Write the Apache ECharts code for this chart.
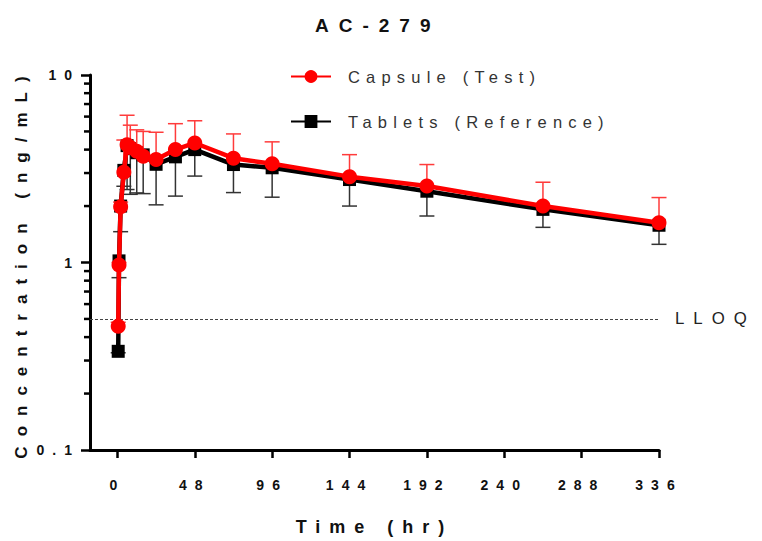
<!DOCTYPE html>
<html><head><meta charset="utf-8">
<script src="https://cdn.jsdelivr.net/npm/echarts@6/dist/echarts.min.js"></script>
<style>html,body{margin:0;padding:0;background:#fff}#c{width:762px;height:541px}</style>
</head><body><div id="c"></div>
<script>
// ---- data ----
const timeHr = [0.5, 1, 2, 4, 6, 8, 12, 16, 24, 36, 48, 72, 96, 144, 192, 264, 336];
const capsuleMean  = [0.457, 0.97, 1.98, 3.03, 4.25, 4.11, 3.92, 3.69, 3.54, 4.0, 4.34, 3.6, 3.36, 2.87, 2.56, 2.0, 1.63];
const capsuleUpper = [0.48, 1.0, 2.1, 4.5, 6.1, 5.4, 5.1, 5.0, 4.95, 5.5, 5.7, 4.85, 4.4, 3.76, 3.33, 2.68, 2.22];
const tabletsMean  = [0.336, 1.02, 2.0, 3.1, 4.2, 4.05, 3.85, 3.75, 3.34, 3.66, 4.0, 3.33, 3.2, 2.77, 2.4, 1.92, 1.58];
const tabletsLower = [0.33, 0.83, 1.46, 2.55, 2.45, 2.31, 2.35, 2.33, 2.03, 2.26, 2.89, 2.36, 2.23, 2.0, 1.77, 1.54, 1.25];
const xTickValues = [0, 48, 96, 144, 192, 240, 288, 336];
const yMinorTickValues = [0.2, 0.3, 0.4, 0.5, 0.6, 0.7, 0.8, 0.9, 2, 3, 4, 5, 6, 7, 8, 9];
const lloqValue = 0.5;
const seriesNames = ['Capsule (Test)', 'Tablets (Reference)'];

const X_MIN = -17, X_MAX = 336;
const FONT = "'Liberation Sans', Arial, sans-serif";

function errRender(color) {
  return function (params, api) {
    const p1 = api.coord([api.value(0), api.value(1)]);
    const p2 = api.coord([api.value(0), api.value(2)]);
    const st = { stroke: color, lineWidth: 1.5 };
    return { type: 'group', children: [
      { type: 'line', shape: { x1: p1[0], y1: p1[1], x2: p2[0], y2: p2[1] }, style: st },
      { type: 'line', shape: { x1: p2[0] - 7.5, y1: p2[1], x2: p2[0] + 7.5, y2: p2[1] }, style: st }
    ]};
  };
}

const chart = echarts.init(document.getElementById('c'), null, { renderer: 'svg' });
chart.setOption({
  animation: false,
  backgroundColor: '#fff',
  title: { text: 'AC-279', left: 310, top: 11,
    textStyle: { fontFamily: FONT, fontSize: 19, fontWeight: 'bold', color: '#111' } },
  legend: {
    data: seriesNames, orient: 'vertical', left: 285, top: 63,
    itemWidth: 40, itemHeight: 16, itemGap: 28,
    textStyle: { fontFamily: FONT, fontSize: 16.5, color: '#333', padding: [0, 0, 0, 12] }
  },
  grid: { left: 90, right: 103, top: 75, bottom: 89 },
  xAxis: {
    type: 'value', min: X_MIN, max: X_MAX,
    name: 'Time (hr)', nameLocation: 'middle', nameGap: 68,
    nameTextStyle: { fontFamily: FONT, fontSize: 18, fontWeight: 'bold', color: '#111' },
    axisLine: { show: true, lineStyle: { color: '#000', width: 3 } },
    axisTick: { show: true, customValues: xTickValues, length: 8, lineStyle: { color: '#000', width: 2.5 } },
    axisLabel: { customValues: xTickValues, margin: 28, fontFamily: FONT, fontSize: 14, fontWeight: 'bold', color: '#111' },
    splitLine: { show: false }
  },
  yAxis: {
    type: 'log', logBase: 10, min: 0.1, max: 10,
    name: 'Concentration (ng/mL)', nameLocation: 'middle', nameGap: 60,
    nameTextStyle: { fontFamily: FONT, fontSize: 17, fontWeight: 'bold', color: '#111' },
    axisLine: { show: true, onZero: false, lineStyle: { color: '#000', width: 3 } },
    axisTick: { show: true, length: 9, lineStyle: { color: '#000', width: 2.5 } },
    axisLabel: { margin: 10, fontFamily: FONT, fontSize: 14, fontWeight: 'bold', color: '#111',
      formatter: v => String(v) },
    splitLine: { show: false }
  },
  series: [
    { type: 'custom', silent: true, z: 1, clip: false,
      data: yMinorTickValues.map(v => [X_MIN, v]),
      encode: { x: 0, y: 1 },
      renderItem: function (params, api) {
        const p = api.coord([api.value(0), api.value(1)]);
        return { type: 'line', shape: { x1: p[0] - 6, y1: p[1], x2: p[0], y2: p[1] },
          style: { stroke: '#000', lineWidth: 2.5 } };
      } },
    { type: 'custom', silent: true, z: 2,
      data: timeHr.map((t, i) => [t, tabletsMean[i], tabletsLower[i]]),
      encode: { x: 0, y: [1, 2] }, renderItem: errRender('#333') },
    { name: seriesNames[1], type: 'line', z: 3,
      data: timeHr.map((t, i) => [t, tabletsMean[i]]),
      symbol: 'rect', symbolSize: 13,
      lineStyle: { color: '#000', width: 4.5 }, itemStyle: { color: '#000' } },
    { type: 'custom', silent: true, z: 4,
      data: timeHr.map((t, i) => [t, capsuleMean[i], capsuleUpper[i]]),
      encode: { x: 0, y: [1, 2] }, renderItem: errRender('#ff3b3b') },
    { name: seriesNames[0], type: 'line', z: 5,
      data: timeHr.map((t, i) => [t, capsuleMean[i]]),
      symbol: 'circle', symbolSize: 15,
      lineStyle: { color: '#ff0000', width: 4.5 }, itemStyle: { color: '#ff0000' },
      markLine: { silent: true, symbol: 'none',
        lineStyle: { color: '#444', width: 1, type: [3, 2] },
        label: { show: true, position: 'end', distance: 16, formatter: 'LLOQ',
          fontFamily: FONT, fontSize: 16.8, color: '#222' },
        data: [{ yAxis: lloqValue }] } }
  ]
});

// spaced-out lettering as in the reference
const spacing = { '19': 10, '14': 8, '17': 10, '18': 9, '16.5': 6.2, '16.8': 9 };
function applySpacing() {
  document.querySelectorAll('#c svg text').forEach(el => {
    const fs = parseFloat(getComputedStyle(el).fontSize);
    const s = spacing[String(fs)];
    if (s !== undefined) el.style.letterSpacing = s + 'px';
  });
}
applySpacing();
chart.on('finished', applySpacing);
setTimeout(applySpacing, 50);
</script>
</body></html>
